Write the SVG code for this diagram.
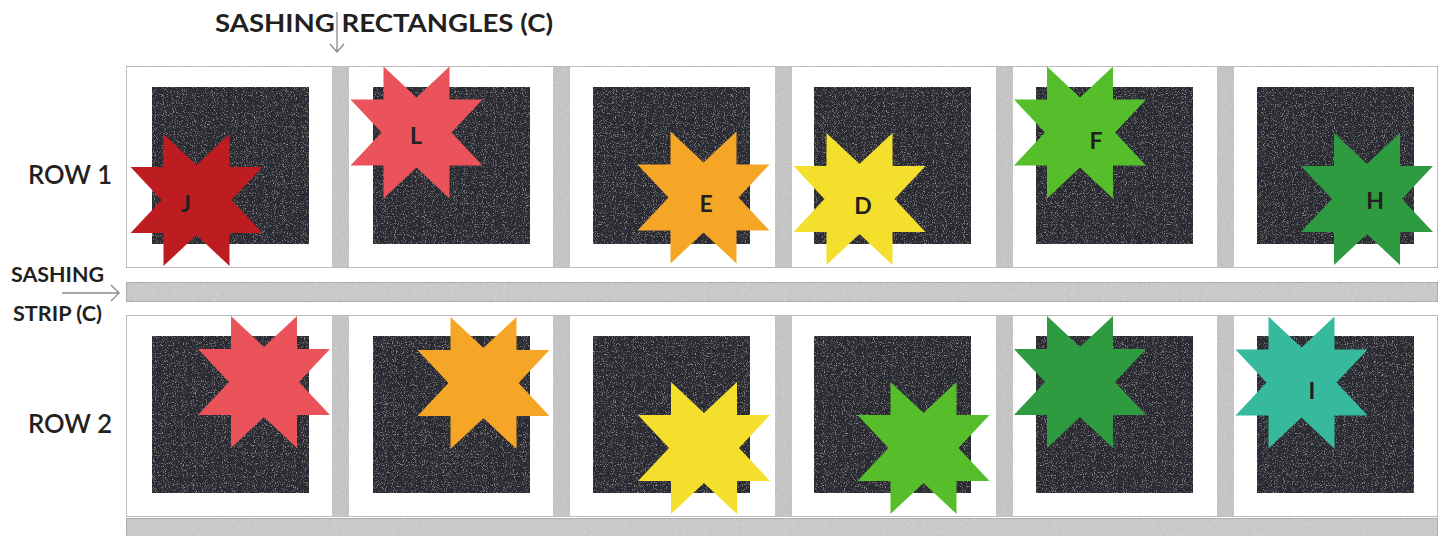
<svg xmlns="http://www.w3.org/2000/svg" xmlns:xlink="http://www.w3.org/1999/xlink" width="1446" height="536" viewBox="0 0 1446 536">
<style>
.lbl{font-family:Lato,"Noto Sans","Liberation Sans",sans-serif;font-weight:700;fill:#231f20}
.top{font-size:24px}
.row{font-size:26px;font-weight:600}
.side{font-size:21px}
.star-lbl{font-size:23px;text-anchor:middle}
.panel{fill:#ffffff;stroke:#a3a3a3;stroke-width:1.5}
.sash{fill:#c3c3c3}
.strip{fill:#c8c8c8;stroke:#a0a0a0;stroke-width:1.5}
.dark{fill:#2c2c31}
.conn{fill:none;stroke:#8a8a8a;stroke-width:1.3}
</style>
<defs>
<filter id="speck" x="0" y="0" width="1" height="1">
<feTurbulence type="fractalNoise" baseFrequency="0.9" numOctaves="2" seed="4" result="n"/>
<feColorMatrix in="n" type="matrix" values="0 0 0 0 1 0 0 0 0 1 0 0 0 0 1 1.1 0 0 0 -0.62" result="w"/>
<feComposite in="w" in2="SourceGraphic" operator="in" result="ws"/>
<feMerge><feMergeNode in="SourceGraphic"/><feMergeNode in="ws"/></feMerge>
</filter>
<path id="star" d="M-33,-66 L0,-35 L33,-66 L33,-33 L66,-33 L35,0 L66,33 L33,33 L33,66 L0,35 L-33,66 L-33,33 L-66,33 L-35,0 L-66,-33 L-33,-33 Z"/>
</defs>
<rect width="1446" height="536" fill="#ffffff"/>

<g id="label-top"><text class="lbl top" x="215" y="32" textLength="338" lengthAdjust="spacingAndGlyphs">SASHING RECTANGLES (C)</text></g>
<g id="label-row1"><text class="lbl row" x="28" y="184" textLength="84" lengthAdjust="spacingAndGlyphs">ROW 1</text></g>
<g id="label-row2"><text class="lbl row" x="28" y="433" textLength="84" lengthAdjust="spacingAndGlyphs">ROW 2</text></g>
<g id="label-strip">
<text class="lbl side" x="11" y="282" textLength="93" lengthAdjust="spacingAndGlyphs">SASHING</text>
<text class="lbl side" x="13" y="321" textLength="89" lengthAdjust="spacingAndGlyphs">STRIP (C)</text>
</g>

<g id="row1" filter="url(#speck)">
<rect class="panel" x="126" y="66" width="1312" height="202"/>
<rect class="sash" x="332" y="67" width="17" height="200"/>
<rect class="sash" x="553" y="67" width="17" height="200"/>
<rect class="sash" x="775" y="67" width="17" height="200"/>
<rect class="sash" x="996" y="67" width="17" height="200"/>
<rect class="sash" x="1217" y="67" width="17" height="200"/>
<rect class="dark" x="152" y="87" width="157" height="157"/>
<rect class="dark" x="373" y="87" width="157" height="157"/>
<rect class="dark" x="593" y="87" width="157" height="157"/>
<rect class="dark" x="814" y="87" width="157" height="157"/>
<rect class="dark" x="1036" y="87" width="157" height="157"/>
<rect class="dark" x="1257" y="87" width="157" height="157"/>
</g>

<g id="sashing-strip" filter="url(#speck)"><rect class="strip" x="126" y="282" width="1312" height="20"/></g>

<g id="row2" filter="url(#speck)">
<rect class="panel" x="126" y="315" width="1312" height="202"/>
<rect class="sash" x="332" y="316" width="17" height="200"/>
<rect class="sash" x="553" y="316" width="17" height="200"/>
<rect class="sash" x="775" y="316" width="17" height="200"/>
<rect class="sash" x="996" y="316" width="17" height="200"/>
<rect class="sash" x="1217" y="316" width="17" height="200"/>
<rect class="dark" x="152" y="336" width="157" height="157"/>
<rect class="dark" x="373" y="336" width="157" height="157"/>
<rect class="dark" x="593" y="336" width="157" height="157"/>
<rect class="dark" x="814" y="336" width="157" height="157"/>
<rect class="dark" x="1036" y="336" width="157" height="157"/>
<rect class="dark" x="1257" y="336" width="157" height="157"/>
</g>

<g id="bottom-strip" filter="url(#speck)"><rect class="strip" x="126" y="518" width="1312" height="20"/></g>

<g id="star-J"><use xlink:href="#star" x="196.5" y="200" fill="#bd1c20"/><text class="lbl star-lbl" x="186" y="212">J</text></g>
<g id="star-L"><use xlink:href="#star" x="416.5" y="132.5" fill="#ea535a"/><text class="lbl star-lbl" x="416" y="144">L</text></g>
<g id="star-E"><use xlink:href="#star" x="703.5" y="197.5" fill="#f6a627"/><text class="lbl star-lbl" x="706" y="212">E</text></g>
<g id="star-D"><use xlink:href="#star" x="859.5" y="199" fill="#f4df2c"/><text class="lbl star-lbl" x="863" y="214">D</text></g>
<g id="star-F"><use xlink:href="#star" x="1080" y="132.5" fill="#57be2b"/><text class="lbl star-lbl" x="1096" y="149">F</text></g>
<g id="star-H"><use xlink:href="#star" x="1367" y="199" fill="#2f9b41"/><text class="lbl star-lbl" x="1375" y="209">H</text></g>

<g id="star-r2-1"><use xlink:href="#star" x="264" y="382" fill="#ea535a"/></g>
<g id="star-r2-2"><use xlink:href="#star" x="483.5" y="383" fill="#f6a627"/></g>
<g id="star-r2-3"><use xlink:href="#star" x="704" y="448" fill="#f4df2c"/></g>
<g id="star-r2-4"><use xlink:href="#star" x="923.5" y="448" fill="#57be2b"/></g>
<g id="star-r2-5"><use xlink:href="#star" x="1080" y="382" fill="#2f9b41"/></g>
<g id="star-I"><use xlink:href="#star" x="1301.5" y="382.5" fill="#36b99c"/><text class="lbl star-lbl" x="1312" y="399">I</text></g>

<g id="connectors">
<path class="conn" d="M337,12 L337,52 M330,44 L337,52 L344,44"/>
<path class="conn" d="M62,293 L119,293 M111,285 L119,293 L111,301"/>
</g>
</svg>
